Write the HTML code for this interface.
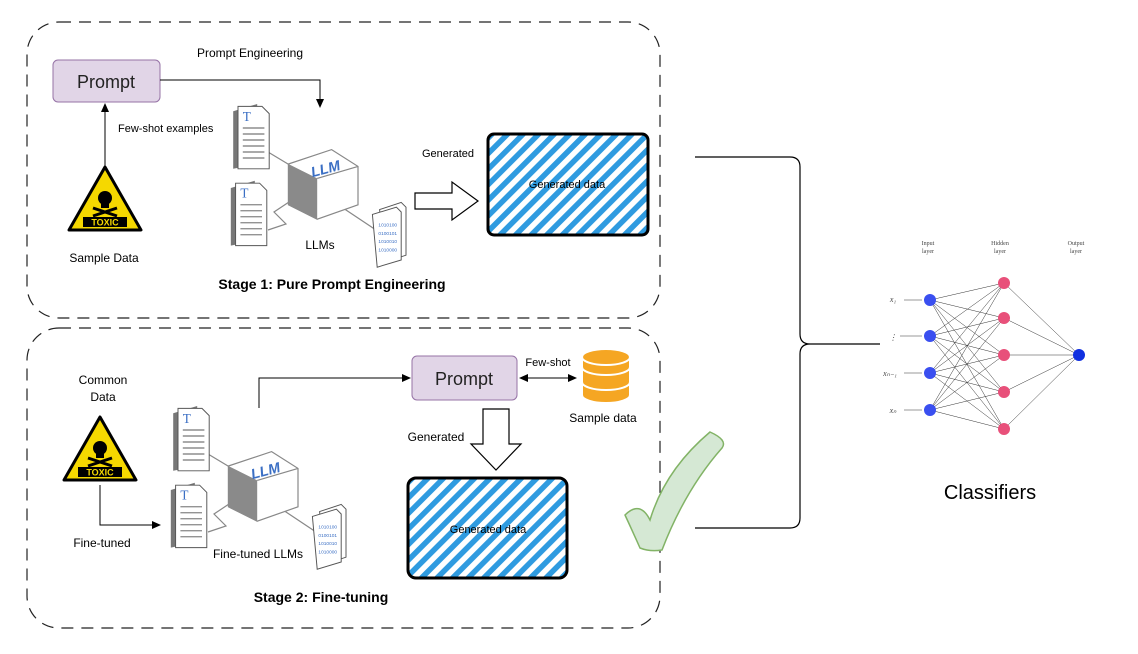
<!DOCTYPE html>
<html><head><meta charset="utf-8"><style>
body{margin:0;background:#fff;}
svg{display:block;font-family:"Liberation Sans",Arial,sans-serif;}
</style></head><body>
<svg width="1138" height="654" viewBox="0 0 1138 654" xmlns="http://www.w3.org/2000/svg">
<defs>
<pattern id="st" width="11" height="11" patternUnits="userSpaceOnUse" patternTransform="rotate(45)">
<rect width="11" height="11" fill="#fff"/><rect width="5.5" height="11" fill="#2f9be0"/>
</pattern>
<marker id="ar" markerWidth="10" markerHeight="10" refX="8" refY="5" orient="auto" markerUnits="userSpaceOnUse"><path d="M0,1 L9,5 L0,9 Z" fill="#000"/></marker>
<marker id="ars" markerWidth="10" markerHeight="10" refX="1" refY="5" orient="auto" markerUnits="userSpaceOnUse"><path d="M9,1 L0,5 L9,9 Z" fill="#000"/></marker>
<g id="tox">
<path d="M0,-33 L36,30 L-36,30 Z" fill="#f5d800" stroke="#000" stroke-width="3" stroke-linejoin="round"/>
<circle cx="0" cy="-2" r="7" fill="#000"/><rect x="-4" y="3" width="8" height="5" fill="#000"/>
<path d="M-12,8 L12,16 M12,8 L-12,16" stroke="#000" stroke-width="3"/>
<rect x="-22" y="17" width="44" height="10" fill="#000"/>
<text x="0" y="25.5" font-size="9" font-weight="bold" fill="#f5d800" text-anchor="middle">TOXIC</text>
</g>
<g id="doc">
<path d="M-4,4 L16,-2 L16,48 L-4,52 Z" fill="#777"/>
<path d="M0,0 L20,0 L26,6 L26,52 L0,52 Z" fill="#fff" stroke="#555" stroke-width="0.8"/>
<text x="4" y="12" font-size="11" fill="#3b6fc4" font-family="Liberation Serif,serif">T</text>
<path d="M4,18 H22 M4,23 H22 M4,28 H22 M4,33 H22 M4,38 H22 M4,43 H22" stroke="#555" stroke-width="0.8"/>
</g>
<g id="llmi">
<line x1="-45" y1="-20" x2="-20" y2="-5" stroke="#888"/>
<path d="M-25,20 L-40,30 L-30,40 L-45,45" stroke="#888" fill="none"/>
<line x1="15" y1="25" x2="45" y2="45" stroke="#888"/>
<path d="M-28,-10 L8,-22 L30,-8 L30,24 L-4,36 L-28,24 Z" fill="#fff" stroke="#888"/>
<path d="M-28,-10 L-4,2 L-4,36 L-28,24 Z" fill="#8a8a8a"/>
<path d="M-4,2 L30,-8" stroke="#888"/>
<text x="3" y="-2" font-size="12" font-weight="bold" font-style="italic" fill="#3b6fc4" text-anchor="middle" transform="rotate(-15 3 -6)">LLM</text>
<use href="#doc" x="-70" y="-58"/>
<use href="#doc" x="-72" y="6"/>
<g transform="translate(48,28)">
<path d="M0,0 L18,-6 L22,-2 L22,38 L4,44 Z" fill="#fff" stroke="#555" stroke-width="0.8"/>
<path d="M-6,4 L14,-2 L18,2 L18,42 L-2,48 Z" fill="#fff" stroke="#555" stroke-width="0.8"/>
<text x="-1" y="14" font-size="4" fill="#3b6fc4">1010100</text><text x="-1" y="21" font-size="4" fill="#3b6fc4">0100101</text><text x="-1" y="28" font-size="4" fill="#3b6fc4">1010010</text><text x="-1" y="35" font-size="4" fill="#3b6fc4">1010000</text>
</g>
</g>
</defs>
<rect x="27" y="22" width="633" height="296" rx="32" fill="none" stroke="#222" stroke-width="1.2" stroke-dasharray="12,8"/>
<rect x="27" y="328" width="633" height="300" rx="32" fill="none" stroke="#222" stroke-width="1.2" stroke-dasharray="12,8"/>
<rect x="53" y="60" width="107" height="42" rx="5" fill="#e1d5e7" stroke="#9673a6"/>
<text x="106" y="88" font-size="18" text-anchor="middle" fill="#222">Prompt</text>
<path d="M160,80 H320 V107" fill="none" stroke="#000" marker-end="url(#ar)"/>
<text x="250" y="57" font-size="12" text-anchor="middle">Prompt Engineering</text>
<path d="M105,170 V104" fill="none" stroke="#000" marker-end="url(#ar)"/>
<text x="118" y="132" font-size="11">Few-shot examples</text>
<use href="#tox" x="105" y="200"/>
<text x="104" y="262" font-size="12" text-anchor="middle">Sample Data</text>
<g transform="translate(322,176) scale(1.2)"><use href="#llmi"/></g>
<text x="320" y="249" font-size="12" text-anchor="middle">LLMs</text>
<text x="448" y="157" font-size="11" text-anchor="middle">Generated</text>
<path d="M415,193 H452 V182 L478,201 L452,220 V209 H415 Z" fill="#fff" stroke="#000" stroke-width="1.2"/>
<rect x="488" y="134" width="160" height="101" rx="6" fill="url(#st)" stroke="#000" stroke-width="3"/>
<text x="567" y="188" font-size="11" text-anchor="middle">Generated data</text>
<text x="332" y="289" font-size="14" font-weight="bold" text-anchor="middle">Stage 1: Pure Prompt Engineering</text>
<text x="103" y="384" font-size="12" text-anchor="middle">Common</text>
<text x="103" y="401" font-size="12" text-anchor="middle">Data</text>
<use href="#tox" x="100" y="450"/>
<path d="M100,485 V525 H160" fill="none" stroke="#000" marker-end="url(#ar)"/>
<text x="102" y="547" font-size="12" text-anchor="middle">Fine-tuned</text>
<g transform="translate(262,478) scale(1.2)"><use href="#llmi"/></g>
<text x="258" y="558" font-size="12" text-anchor="middle">Fine-tuned LLMs</text>
<path d="M259,408 V378 H410" fill="none" stroke="#000" marker-end="url(#ar)"/>
<rect x="412" y="356" width="105" height="44" rx="5" fill="#e1d5e7" stroke="#9673a6"/>
<text x="464" y="385" font-size="18" text-anchor="middle" fill="#222">Prompt</text>
<path d="M520,378 H576" fill="none" stroke="#000" marker-start="url(#ars)" marker-end="url(#ar)"/>
<text x="548" y="366" font-size="11" text-anchor="middle">Few-shot</text>
<g fill="#f5a623" stroke="#fff" stroke-width="2">
<path d="M582,385 v10 a24,8 0 0 0 48,0 v-10 Z"/>
<path d="M582,370 v12 a24,8 0 0 0 48,0 v-12 Z"/>
<path d="M582,357 v10 a24,8 0 0 0 48,0 v-10 Z"/>
<ellipse cx="606" cy="357" rx="24" ry="8"/>
</g>
<text x="603" y="422" font-size="12" text-anchor="middle">Sample data</text>
<text x="436" y="441" font-size="12" text-anchor="middle">Generated</text>
<path d="M483,409 H509 V444 H521 L496,470 L471,444 H483 Z" fill="#fff" stroke="#000" stroke-width="1.2"/>
<rect x="408" y="478" width="159" height="100" rx="8" fill="url(#st)" stroke="#000" stroke-width="3"/>
<text x="488" y="533" font-size="11" text-anchor="middle">Generated data</text>
<path d="M625,515 Q640,500 650,520 Q665,470 710,432 Q728,440 722,448 Q685,490 662,550 Q650,552 640,548 Q632,530 625,515 Z" fill="#d5e8d4" stroke="#82b366" stroke-width="1.5"/>
<text x="321" y="602" font-size="14" font-weight="bold" text-anchor="middle">Stage 2: Fine-tuning</text>
<path d="M695,157 H790 Q800,157 800,167 V334 Q800,344 810,344 H880 M810,344 Q800,344 800,354 V518 Q800,528 790,528 H695" fill="none" stroke="#000" stroke-width="1.2"/>
<text x="990" y="499" font-size="20" text-anchor="middle">Classifiers</text>
<g stroke="#333" stroke-width="0.5" fill="none">
<path d="M930,300 L1004,283 M930,300 L1004,318 M930,300 L1004,355 M930,300 L1004,392 M930,300 L1004,429
M930,336 L1004,283 M930,336 L1004,318 M930,336 L1004,355 M930,336 L1004,392 M930,336 L1004,429
M930,373 L1004,283 M930,373 L1004,318 M930,373 L1004,355 M930,373 L1004,392 M930,373 L1004,429
M930,410 L1004,283 M930,410 L1004,318 M930,410 L1004,355 M930,410 L1004,392 M930,410 L1004,429
M1004,283 L1079,355 M1004,318 L1079,355 M1004,355 L1079,355 M1004,392 L1079,355 M1004,429 L1079,355
M904,300 H922 M900,336 H922 M904,373 H922 M904,410 H922"/>
</g>
<g fill="#3a4ff0"><circle cx="930" cy="300" r="6"/><circle cx="930" cy="336" r="6"/><circle cx="930" cy="373" r="6"/><circle cx="930" cy="410" r="6"/></g>
<g fill="#e8507a"><circle cx="1004" cy="283" r="6"/><circle cx="1004" cy="318" r="6"/><circle cx="1004" cy="355" r="6"/><circle cx="1004" cy="392" r="6"/><circle cx="1004" cy="429" r="6"/></g>
<circle cx="1079" cy="355" r="6" fill="#1030e0"/>
<g font-size="6" fill="#444" text-anchor="middle" font-family="Liberation Serif,serif">
<text x="928" y="245">Input</text><text x="928" y="253">layer</text>
<text x="1000" y="245">Hidden</text><text x="1000" y="253">layer</text>
<text x="1076" y="245">Output</text><text x="1076" y="253">layer</text>
<g font-size="8" font-style="italic"><text x="893" y="302">x₁</text><text x="893" y="340">⋮</text><text x="890" y="376">xₙ₋₁</text><text x="893" y="413">xₙ</text></g>
</g>
</svg>
</body></html>
